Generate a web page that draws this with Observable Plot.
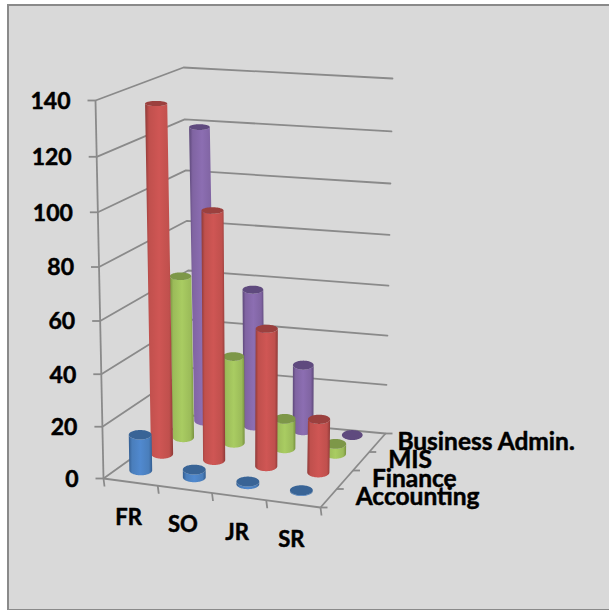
<!DOCTYPE html>
<html>
<head>
<meta charset="utf-8">
<script src="https://cdn.jsdelivr.net/npm/d3@7"></script>
<script src="https://cdn.jsdelivr.net/npm/@observablehq/plot@0.6"></script>
<style>
html,body{margin:0;padding:0;background:#fff;}
#panel{position:absolute;left:7px;top:4px;width:606px;height:603px;background:#D9D9D9;border:2px solid #8a8a8a;box-sizing:content-box;}
#chart{position:absolute;left:0;top:0;width:609px;height:610px;overflow:hidden;}
</style>
</head>
<body>
<div id="wrap" style="position:absolute;left:0;top:0;width:609px;height:610px;overflow:hidden">
<div id="panel"></div>
<div id="chart"></div>
</div>
<script>
const categories = ["FR", "SO", "JR", "SR"];
const seriesNames = ["Accounting", "Finance", "MIS", "Business Admin."];
const accounting = [14, 3, 1, 0.3];
const finance = [135, 97, 54, 21];
const mis = [65, 35, 12, 4];
const businessAdmin = [119, 56, 27, 0];
const valueTicks = [0, 20, 40, 60, 80, 100, 120, 140];
const seriesValues = [accounting, finance, mis, businessAdmin];

// Palette per series: edge, body, centre, cap
const palette = [
  ["#335d90", "#4a7ebb", "#5089cf", "#396496"],
  ["#8e3a38", "#c0504d", "#cf5654", "#9b403e"],
  ["#78923f", "#9bbb59", "#a9cc62", "#7d9748"],
  ["#5c4778", "#8064a2", "#8c6eb2", "#5f4a7e"]
];

// Projection of the 3D chart box: u along categories, v in depth, w in height
const box = {
  fl0: [103, 478], fr0: [320, 507], bl0: [191, 415], br0: [385, 433],
  fl1: [95, 100], fr1: [327, 122], bl1: [183, 67], br1: [392, 78]
};
const lerp = (a, b, t) => [a[0] + (b[0] - a[0]) * t, a[1] + (b[1] - a[1]) * t];
const maxV = 140;
function project(u, v, value) {
  const t = value / maxV;
  const w = t / (1 + 0.05 * (1 - t));
  const low = lerp(lerp(box.fl0, box.fr0, u), lerp(box.bl0, box.br0, u), v);
  const high = lerp(lerp(box.fl1, box.fr1, u), lerp(box.bl1, box.br1, u), v);
  return lerp(low, high, w);
}

const marks = [];
const lineStyle = {stroke: "#8a8a8a", strokeWidth: 1.8};

// Gridlines on the two walls
const gridData = valueTicks.flatMap(val => [
  {val, p: project(0, 0, val)},
  {val, p: project(0, 1, val)},
  {val, p: project(1, 1, val)}
]);
marks.push(Plot.line(gridData, {x: d => d.p[0], y: d => d.p[1], z: "val", curve: "linear", ...lineStyle}));

// Floor front and right edges, and the vertical axis
const edges = [
  [[0, 0, 0], [1, 0, 0]],
  [[1, 0, 0], [1, 1, 0]],
  [[0, 0, 0], [0, 0, maxV]]
].map(([a, b]) => ({a: project(...a), b: project(...b)}));
marks.push(Plot.link(edges, {x1: d => d.a[0], y1: d => d.a[1], x2: d => d.b[0], y2: d => d.b[1], ...lineStyle}));

// Tick marks
const valueTickMarks = valueTicks.map(val => project(0, 0, val));
marks.push(Plot.link(valueTickMarks, {x1: d => d[0] - 8, y1: d => d[1], x2: d => d[0], y2: d => d[1], ...lineStyle}));
const catTickMarks = d3.range(0, 5).map(i => project(i / 4, 0, 0));
marks.push(Plot.link(catTickMarks, {x1: d => d[0], y1: d => d[1], x2: d => d[0] + 1, y2: d => d[1] + 8, ...lineStyle}));
const depthTickMarks = d3.range(0, 5).map(i => project(1, i / 4, 0));
marks.push(Plot.link(depthTickMarks, {x1: d => d[0], y1: d => d[1], x2: d => d[0] + 7, y2: d => d[1], ...lineStyle}));

// Cylinders, back row first
const N = 40;
d3.range(3, -1, -1).forEach(j => {
  categories.forEach((cat, i) => {
    const u = (i + 0.5) / 4, v = (j + 0.5) / 4;
    const value = seriesValues[j][i];
    const rx = 11.6 - 1.4 * v, ry0 = 5, ryT = 5 - 2.5 * value / maxV;
    const lift = 3 + 2 * v;
    const b = project(u, v, 0), t = project(u, v, value);
    b[1] -= lift;
    t[1] -= lift * (1 - value / maxV);
    const arc = d3.range(N + 1).map(k => {
      const th = Math.PI * k / N;
      const c = Math.cos(th), s = Math.sin(th);
      return {bx: b[0] + rx * c, by: b[1] + ry0 * s, tx: t[0] + rx * c, ty: t[1] + ryT * s};
    });
    marks.push(Plot.area(arc, {x1: "bx", y1: "by", x2: "tx", y2: "ty", fill: `url(#grad${j})`, curve: "linear"}));
    const cap = d3.range(2 * N + 1).map(k => {
      const th = Math.PI * k / N;
      return {x: t[0] + rx * Math.cos(th), y: t[1] + ryT * Math.sin(th)};
    });
    marks.push(Plot.area(cap, {x1: "x", y1: "y", x2: () => t[0], y2: () => t[1], fill: palette[j][3], curve: "linear"}));
  });
});

// Text
const font = {fontFamily: "Lato", fontWeight: 700, fontSize: 24.5, fill: "#000", stroke: "#000", strokeWidth: 0.5, dy: 1};
marks.push(Plot.text(valueTicks, {
  x: d => project(0, 0, d)[0] - 25,
  y: d => project(0, 0, d)[1],
  text: d => String(d), textAnchor: "end", ...font, fontSize: 23
}));
marks.push(Plot.text(categories, {
  x: (d, i) => project((i + 0.5) / 4, 0, 0)[0] - 2,
  y: (d, i) => project((i + 0.5) / 4, 0, 0)[1] + 35,
  text: d => d, ...font, fontSize: 22
}));
marks.push(Plot.text(seriesNames, {
  x: (d, i) => project(1, (i + 0.5) / 4, 0)[0] + (i === 3 ? 20 : 27),
  y: (d, i) => project(1, (i + 0.5) / 4, 0)[1],
  text: d => d, textAnchor: "start", ...font, dy: -1
}));

const plot = Plot.plot({
  width: 609, height: 610,
  margin: 0,
  x: {domain: [0, 609], range: [0, 609], axis: null},
  y: {domain: [0, 610], range: [0, 610], axis: null},
  style: {background: "transparent", overflow: "visible"},
  marks
});

// Horizontal cylinder shading
const ns = "http://www.w3.org/2000/svg";
const defs = document.createElementNS(ns, "defs");
palette.forEach((p, j) => {
  const g = document.createElementNS(ns, "linearGradient");
  g.setAttribute("id", `grad${j}`);
  g.setAttribute("x1", "0"); g.setAttribute("x2", "1");
  g.setAttribute("y1", "0"); g.setAttribute("y2", "0");
  [[0, p[0]], [0.14, p[1]], [0.5, p[2]], [0.86, p[1]], [1, p[0]]].forEach(([o, c]) => {
    const s = document.createElementNS(ns, "stop");
    s.setAttribute("offset", o);
    s.setAttribute("stop-color", c);
    g.appendChild(s);
  });
  defs.appendChild(g);
});
plot.insertBefore(defs, plot.firstChild);
document.getElementById("chart").appendChild(plot);
</script>
</body>
</html>
